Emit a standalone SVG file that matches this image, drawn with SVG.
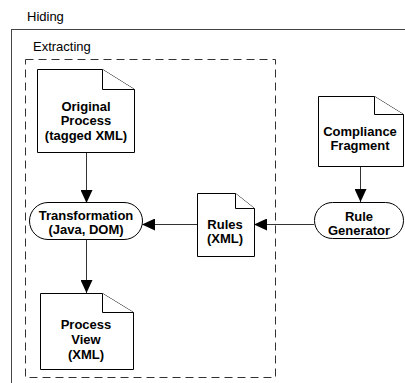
<svg xmlns="http://www.w3.org/2000/svg" width="405" height="383" viewBox="0 0 405 383">
<defs>
<style>
.lbl{font-family:"Liberation Sans",Arial,sans-serif;font-size:13px;fill:#000}
.t{font-family:"Liberation Sans",Arial,sans-serif;font-size:13px;font-weight:bold;fill:#000;text-anchor:middle}
.shape{fill:#fff;stroke:#000;stroke-width:1}
.conn{stroke:#333;stroke-width:1;fill:none}
</style>
<marker id="ah" markerWidth="13" markerHeight="12" refX="13" refY="6" orient="auto" markerUnits="userSpaceOnUse">
<path d="M0,0 L13,6 L0,12 Z" fill="#000"/>
</marker>
</defs>
<rect width="405" height="383" fill="#fff"/>
<g id="hiding">
<rect x="11.5" y="29.5" width="420" height="380" fill="none" stroke="#444" stroke-width="1"/>
<text class="lbl" x="27" y="21">Hiding</text>
</g>
<g id="extracting">
<rect x="25.5" y="59.5" width="250" height="318" fill="none" stroke="#333" stroke-width="1" stroke-dasharray="8,5"/>
<text class="lbl" x="33" y="51">Extracting</text>
</g>
<g id="connectors">
<line class="conn" x1="86.5" y1="152" x2="86.5" y2="203" marker-end="url(#ah)"/>
<line class="conn" x1="86.5" y1="239" x2="86.5" y2="293" marker-end="url(#ah)"/>
<line class="conn" x1="197" y1="224.5" x2="142" y2="224.5" marker-end="url(#ah)"/>
<line class="conn" x1="314" y1="224.5" x2="254" y2="224.5" marker-end="url(#ah)"/>
<line class="conn" x1="360.5" y1="166" x2="360.5" y2="202" marker-end="url(#ah)"/>
</g>
<g id="original-process">
<path class="shape" d="M37.5,69.5 H102.5 L134.5,89.5 V152.5 H37.5 Z"/>
<path class="shape" d="M102.5,69.5 V89.5 H134.5" fill="none"/>
<text class="t" x="86" y="111">Original</text>
<text class="t" x="86" y="125">Process</text>
<text class="t" x="86" y="140">(tagged XML)</text>
</g>
<g id="transformation">
<rect class="shape" x="29.5" y="202.5" width="113" height="37" rx="18.5" ry="18.5"/>
<text class="t" x="86" y="220">Transformation</text>
<text class="t" x="86" y="234">(Java, DOM)</text>
</g>
<g id="process-view">
<path class="shape" d="M40.5,293.5 H102.5 L133.5,312.5 V369.5 H40.5 Z"/>
<path class="shape" d="M102.5,293.5 V312.5 H133.5" fill="none"/>
<text class="t" x="86" y="329">Process</text>
<text class="t" x="86" y="344">View</text>
<text class="t" x="86" y="359">(XML)</text>
</g>
<g id="rules">
<path class="shape" d="M197.5,193.5 H235.5 L254.5,208.5 V256.5 H197.5 Z"/>
<path class="shape" d="M235.5,193.5 V208.5 H254.5" fill="none"/>
<text class="t" x="225" y="229">Rules</text>
<text class="t" x="225" y="243">(XML)</text>
</g>
<g id="compliance-fragment">
<path class="shape" d="M318.5,96.5 H374.5 L403.5,114.5 V166.5 H318.5 Z"/>
<path class="shape" d="M374.5,96.5 V114.5 H403.5" fill="none"/>
<text class="t" x="360" y="136">Compliance</text>
<text class="t" x="360" y="150">Fragment</text>
</g>
<g id="rule-generator">
<rect class="shape" x="314.5" y="202.5" width="89" height="36" rx="18" ry="18"/>
<text class="t" x="359" y="221">Rule</text>
<text class="t" x="359" y="235">Generator</text>
</g>
</svg>
